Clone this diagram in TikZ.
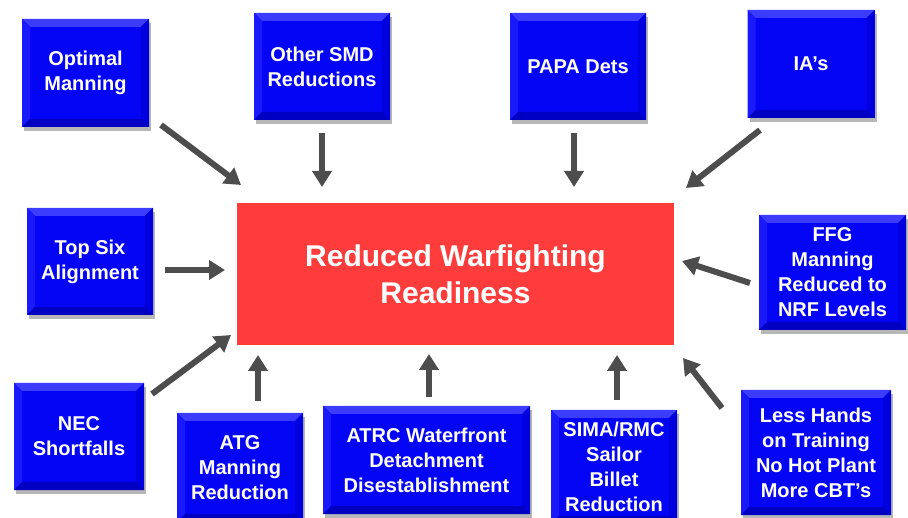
\documentclass[tikz,border=0pt]{standalone}
\usepackage{fontspec}
\setmainfont{Liberation Sans}
\usetikzlibrary{arrows.meta,shadows}
\definecolor{boxblue}{RGB}{5,5,245}
\definecolor{bevtop}{RGB}{60,60,255}
\definecolor{bevleft}{RGB}{25,25,250}
\definecolor{bevright}{RGB}{0,0,222}
\definecolor{bevbot}{RGB}{0,0,195}
\definecolor{redbox}{RGB}{255,60,60}
\definecolor{arrgray}{RGB}{77,77,77}
\tikzset{
  bluebox/.style={fill=boxblue, draw=none, text=white, font=\bfseries\fontsize{20}{25}\selectfont,
    align=center, inner sep=0pt,
    drop shadow={shadow xshift=2pt, shadow yshift=-4pt, opacity=0.4, fill=black!70},
    path picture={
      \coordinate (nw) at (path picture bounding box.north west);
      \coordinate (ne) at (path picture bounding box.north east);
      \coordinate (sw) at (path picture bounding box.south west);
      \coordinate (se) at (path picture bounding box.south east);
      \fill[bevtop] (nw) -- (ne) -- ([shift={(-8pt,-8pt)}]ne) -- ([shift={(8pt,-8pt)}]nw) -- cycle;
      \fill[bevleft] (nw) -- ([shift={(8pt,-8pt)}]nw) -- ([shift={(8pt,8pt)}]sw) -- (sw) -- cycle;
      \fill[bevright] (ne) -- ([shift={(-8pt,-8pt)}]ne) -- ([shift={(-8pt,8pt)}]se) -- (se) -- cycle;
      \fill[bevbot] (sw) -- ([shift={(8pt,8pt)}]sw) -- ([shift={(-8pt,8pt)}]se) -- (se) -- cycle;
    }},
  redstyle/.style={fill=redbox, draw=none, text=white, font=\bfseries\fontsize{30}{37}\selectfont,
    align=center, inner sep=0pt},
  arr/.style={draw=arrgray, line width=6pt, -{Triangle[width=19pt,length=16pt]}}
}
\begin{document}
\begin{tikzpicture}[x=1pt,y=-1pt]
\useasboundingbox (0,0) rectangle (908,518);
% central box
\node[redstyle, minimum width=437pt, minimum height=142pt] (ctr) at (455.5,274) {Reduced Warfighting\\Readiness};
% blue boxes
\node[bluebox, minimum width=127pt, minimum height=108pt] (opt) at (85.5,73) {Optimal\\Manning};
\node[bluebox, minimum width=136pt, minimum height=107pt] (smd) at (322,66.5) {Other SMD\\Reductions};
\node[bluebox, minimum width=136pt, minimum height=107pt] (papa) at (578,66.5) {PAPA Dets};
\node[bluebox, minimum width=127pt, minimum height=108pt] (ia) at (811,64) {IA’s};
\node[bluebox, minimum width=126pt, minimum height=107pt] (top) at (90,261.5) {Top Six\\Alignment};
\node[bluebox, minimum width=147pt, minimum height=115pt] (ffg) at (832.5,272.5) {FFG\\Manning\\Reduced to\\NRF Levels};
\node[bluebox, minimum width=130pt, minimum height=107pt] (nec) at (79,436.5) {NEC\\Shortfalls};
\node[bluebox, minimum width=126pt, minimum height=109pt] (atg) at (240,467.5) {ATG\\Manning\\Reduction};
\node[bluebox, minimum width=207pt, minimum height=108pt] (atrc) at (426.5,460) {ATRC Waterfront\\Detachment\\Disestablishment};
\node[bluebox, minimum width=126pt, minimum height=114pt] (sima) at (614,467) {SIMA/RMC\\Sailor\\Billet\\Reduction};
\node[bluebox, minimum width=150pt, minimum height=125pt] (less) at (816,452.5) {Less Hands\\on Training\\No Hot Plant\\More CBT’s};
% arrow end points
\coordinate (a1s) at (161,125); \coordinate (a1e) at (241,185);
\coordinate (a2s) at (322,133); \coordinate (a2e) at (322,187);
\coordinate (a3s) at (574,133); \coordinate (a3e) at (574,187);
\coordinate (a4s) at (760,130); \coordinate (a4e) at (686,188);
\coordinate (a5s) at (165,270); \coordinate (a5e) at (225,270);
\coordinate (a6s) at (750,283); \coordinate (a6e) at (682,261);
\coordinate (a7s) at (152,394); \coordinate (a7e) at (231,335);
\coordinate (a8s) at (258,401); \coordinate (a8e) at (258,355);
\coordinate (a9s) at (429,397); \coordinate (a9e) at (429,354);
\coordinate (a10s) at (617,400); \coordinate (a10e) at (617,355);
\coordinate (a11s) at (722,408); \coordinate (a11e) at (683,358);
\draw[arr] (a1s) -- (a1e);
\draw[arr] (a2s) -- (a2e);
\draw[arr] (a3s) -- (a3e);
\draw[arr] (a4s) -- (a4e);
\draw[arr] (a5s) -- (a5e);
\draw[arr] (a6s) -- (a6e);
\draw[arr] (a7s) -- (a7e);
\draw[arr] (a8s) -- (a8e);
\draw[arr] (a9s) -- (a9e);
\draw[arr] (a10s) -- (a10e);
\draw[arr] (a11s) -- (a11e);
\end{tikzpicture}
\end{document}
